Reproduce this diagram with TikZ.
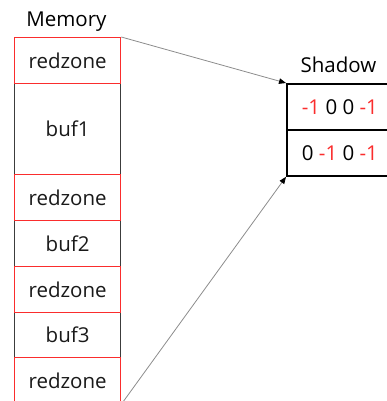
\documentclass[tikz,border=0pt]{standalone}
\usepackage{fontspec}
\setmainfont{Open Sans}
\usetikzlibrary{arrows.meta}
\definecolor{zonered}{RGB}{250,45,45}
\definecolor{bufgray}{RGB}{60,60,60}
\definecolor{conngray}{RGB}{140,140,140}
\begin{document}
\begin{tikzpicture}[x=1pt,y=-1pt,
  cell/.style={rectangle,anchor=north west,minimum width=106pt,inner sep=0pt,font=\fontsize{20.5}{22}\selectfont,text=black!90},
  zone/.style={cell,draw=zonered,line width=1.3pt},
  bufcell/.style={cell,draw=bufgray,line width=1.3pt},
  shcell/.style={rectangle,anchor=north west,minimum width=106pt,minimum height=46pt,inner sep=0pt,draw=black,line width=1.8pt,font=\fontsize{20.5}{22}\selectfont},
  title/.style={anchor=base,font=\fontsize{20.5}{22}\selectfont},
  conn/.style={draw=conngray,line width=0.8pt,-{Triangle[length=7pt,width=5.5pt,color=black]}}
]
\useasboundingbox (0,0) rectangle (386,401);
% memory column (buffers first, red zones on top)
\node[bufcell,minimum height=91pt] (buf1) at (14,83) {buf1};
\node[bufcell,minimum height=46pt] (buf2) at (14,220) {buf2};
\node[bufcell,minimum height=45pt] (buf3) at (14,312) {buf3};
\node[zone,minimum height=46pt] (rz1) at (14,37) {redzone};
\node[zone,minimum height=46pt] (rz2) at (14,174) {redzone};
\node[zone,minimum height=46pt] (rz3) at (14,266) {redzone};
\node[zone,minimum height=46pt] (rz4) at (14,357) {redzone};
\node[title] (memlabel) at (66.5,27) {Memory};
% shadow
\node[shcell] (sh1) at (286,83) {\textcolor{zonered}{-1} 0 0 \textcolor{zonered}{-1}};
\node[shcell] (sh2) at (286,129) {0 \textcolor{zonered}{-1} 0 \textcolor{zonered}{-1}};
\node[title] (shlabel) at (338.5,73) {Shadow};
% connectors
\draw[conn] (rz1.north east) -- (sh1.north west);
\draw[conn] (rz4.south east) -- (sh2.south west);
\end{tikzpicture}
\end{document}
